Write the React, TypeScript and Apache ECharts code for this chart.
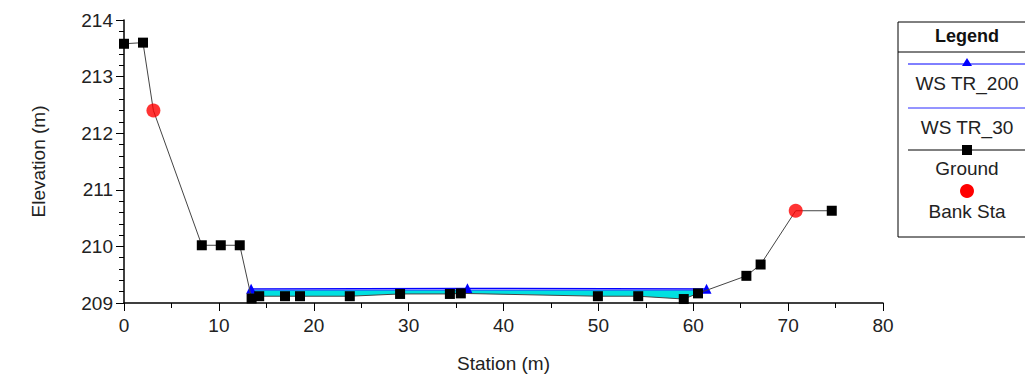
import React, { useEffect, useRef } from "react";
import * as echarts from "echarts";

const groundPts: [number, number][] = [
  [0, 213.58], [2.0, 213.6], [3.1, 212.4], [8.2, 210.02], [10.2, 210.02], [12.2, 210.02],
  [13.45, 209.08], [14.25, 209.12], [16.97, 209.12], [18.55, 209.12], [23.8, 209.12],
  [29.1, 209.16], [34.35, 209.16], [35.5, 209.17], [49.95, 209.12], [54.2, 209.12],
  [59.0, 209.07], [60.5, 209.17], [65.6, 209.48], [67.1, 209.68], [70.8, 210.63], [74.6, 210.63],
];
const bankPts: [number, number][] = [[3.1, 212.4], [70.8, 210.63]];
const wsTR200: [number, number][] = [[13.4, 209.25], [36.2, 209.26], [61.4, 209.25]];
const wsTR30: [number, number][] = [[13.35, 209.23], [61.3, 209.23]];
const legendLabels = ["Legend", "WS TR_200", "WS TR_30", "Ground", "Bank Sta"];
const xTicks = [0, 10, 20, 30, 40, 50, 60, 70, 80];
const yTicks = [209, 210, 211, 212, 213, 214];
const xMinorStep = 5;
const yMinorStep = 0.2;

const FONT = "Liberation Sans, Arial, sans-serif";

export default function App() {
  const ref = useRef<HTMLDivElement>(null);
  useEffect(() => {
    const chart = echarts.init(ref.current!, null, { renderer: "svg" });
    const isBank = (p: [number, number]) => bankPts.some((b) => b[0] === p[0] && b[1] === p[1]);
    const lx = 967;
    const xMin = xTicks[0];
    const xMax = xTicks[xTicks.length - 1];
    const yMin = yTicks[0];
    const yMax = yTicks[yTicks.length - 1];
    const option: any = {
      animation: false,
      backgroundColor: "#fff",
      grid: { left: 124, top: 20, right: 150, bottom: 79 },
      xAxis: [
        {
          type: "value",
          min: xMin,
          max: xMax,
          interval: 10,
          name: "Station (m)",
          nameLocation: "middle",
          nameGap: 51,
          nameTextStyle: { fontFamily: FONT, fontSize: 19, color: "#222" },
          axisLine: { lineStyle: { color: "#000", width: 1.5 } },
          axisTick: { show: true, length: 8, lineStyle: { color: "#000" } },
          axisLabel: { fontFamily: FONT, fontSize: 19, color: "#222", margin: 13 },
          splitLine: { show: false },
          z: 10,
        },
        {
          type: "value",
          position: "bottom",
          min: xMin,
          max: xMax,
          interval: xMinorStep,
          axisLine: { show: false },
          axisTick: { show: true, length: 5, lineStyle: { color: "#000" } },
          axisLabel: { show: false },
          splitLine: { show: false },
          z: 10,
        },
      ],
      yAxis: [
        {
          type: "value",
          min: yMin,
          max: yMax,
          interval: 1,
          name: "Elevation (m)",
          nameLocation: "middle",
          nameGap: 76,
          nameTextStyle: { fontFamily: FONT, fontSize: 19, color: "#222" },
          axisLine: { lineStyle: { color: "#000", width: 1.5 } },
          axisTick: { show: true, length: 8, lineStyle: { color: "#000" } },
          axisLabel: { fontFamily: FONT, fontSize: 19, color: "#222", margin: 11 },
          splitLine: { show: false },
          z: 10,
        },
        {
          type: "value",
          position: "left",
          min: yMin,
          max: yMax,
          interval: yMinorStep,
          axisLine: { show: false },
          axisTick: { show: true, length: 5, lineStyle: { color: "#000" } },
          axisLabel: { show: false },
          splitLine: { show: false },
          z: 10,
        },
      ],
      series: [
        {
          name: "WS fill",
          type: "line",
          data: wsTR30,
          symbol: "none",
          lineStyle: { width: 0 },
          areaStyle: { color: "#00e0e0", opacity: 1, origin: "start" },
          silent: true,
          z: 1,
        },
        {
          name: "ground mask",
          type: "line",
          data: groundPts,
          symbol: "none",
          lineStyle: { width: 0 },
          areaStyle: { color: "#ffffff", opacity: 1, origin: "start" },
          silent: true,
          z: 2,
        },
        {
          name: "WS TR_30",
          type: "line",
          data: wsTR30,
          symbol: "none",
          lineStyle: { color: "#2a2aff", width: 1.2 },
          z: 3,
        },
        {
          name: "WS TR_200",
          type: "line",
          data: wsTR200,
          symbol: "triangle",
          symbolSize: 10,
          itemStyle: { color: "#0000ff" },
          lineStyle: { color: "#0000ff", width: 1.2 },
          z: 4,
        },
        {
          name: "Ground",
          type: "line",
          data: groundPts.map((p) => (isBank(p) ? { value: p, symbol: "none" } : p)),
          symbol: "rect",
          symbolSize: 10,
          itemStyle: { color: "#000" },
          lineStyle: { color: "#444", width: 1 },
          z: 5,
        },
        {
          name: "Bank Sta",
          type: "scatter",
          data: bankPts,
          symbol: "circle",
          symbolSize: 14,
          itemStyle: { color: "#ff0000" },
          z: 6,
        },
      ],
      graphic: [
        { type: "rect", shape: { x: 898, y: 22, width: 129, height: 215 }, style: { fill: "#fff", stroke: "#000", lineWidth: 1 } },
        { type: "line", shape: { x1: 898, y1: 52, x2: 1027, y2: 52 }, style: { stroke: "#000", lineWidth: 1 } },
        { type: "text", x: lx, y: 36, style: { text: legendLabels[0], fontFamily: FONT, fontSize: 18, fontWeight: "bold", fill: "#111", align: "center", verticalAlign: "middle" } },
        { type: "line", shape: { x1: 908, y1: 64, x2: 1026, y2: 64 }, style: { stroke: "#0000ff", lineWidth: 1 } },
        { type: "polygon", shape: { points: [[lx, 58], [lx - 5, 66], [lx + 5, 66]] }, style: { fill: "#0000ff" } },
        { type: "text", x: lx, y: 83, style: { text: legendLabels[1], fontFamily: FONT, fontSize: 19, fill: "#222", align: "center", verticalAlign: "middle" } },
        { type: "line", shape: { x1: 908, y1: 108, x2: 1026, y2: 108 }, style: { stroke: "#2a2aff", lineWidth: 1 } },
        { type: "text", x: lx, y: 127, style: { text: legendLabels[2], fontFamily: FONT, fontSize: 19, fill: "#222", align: "center", verticalAlign: "middle" } },
        { type: "line", shape: { x1: 908, y1: 150, x2: 1026, y2: 150 }, style: { stroke: "#000", lineWidth: 1 } },
        { type: "rect", shape: { x: lx - 5, y: 145, width: 10, height: 10 }, style: { fill: "#000" } },
        { type: "text", x: lx, y: 168, style: { text: legendLabels[3], fontFamily: FONT, fontSize: 19, fill: "#222", align: "center", verticalAlign: "middle" } },
        { type: "circle", shape: { cx: lx, cy: 191, r: 7 }, style: { fill: "#ff0000" } },
        { type: "text", x: lx, y: 211, style: { text: legendLabels[4], fontFamily: FONT, fontSize: 19, fill: "#222", align: "center", verticalAlign: "middle" } },
      ],
    };
    chart.setOption(option);
    return () => chart.dispose();
  }, []);
  return <div ref={ref} style={{ width: 1033, height: 382, margin: -8 }} />;
}
